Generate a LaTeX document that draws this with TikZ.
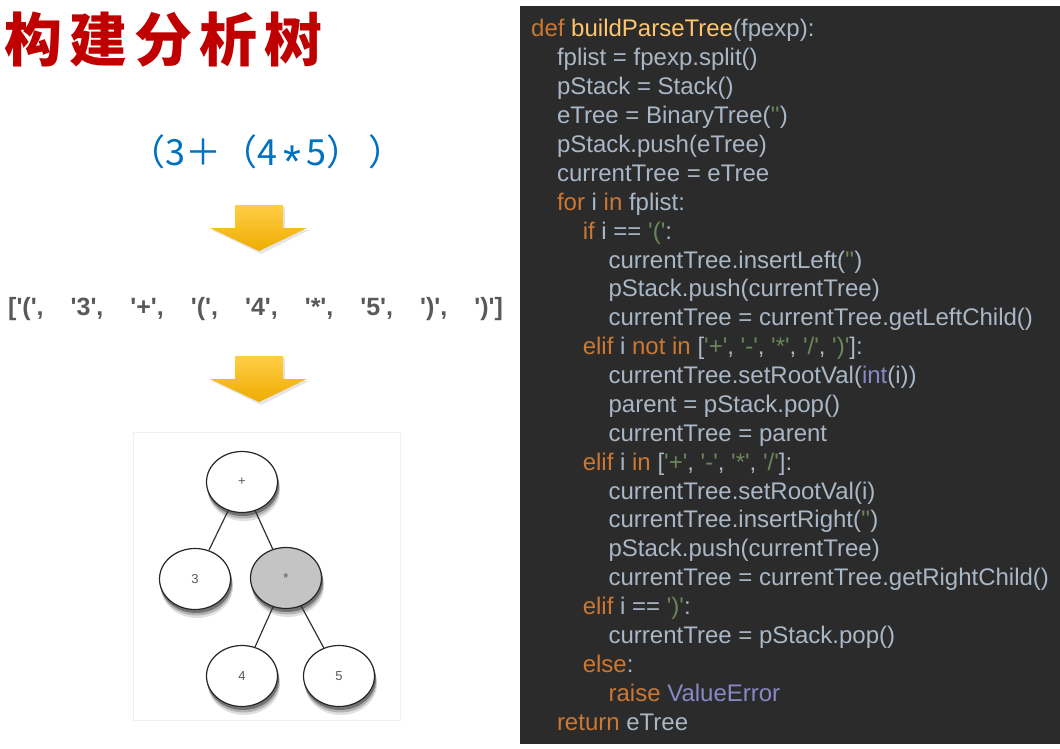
\documentclass[tikz,border=0pt]{standalone}
\usepackage{fontspec}
\usepackage{tikz}
\usetikzlibrary{shapes.geometric}
\newfontfamily\codefont{Liberation Sans}
\newfontfamily\cjkfont{Noto Sans CJK SC}
\definecolor{codebg}{RGB}{43,43,43}
\definecolor{codetxt}{RGB}{169,183,198}
\definecolor{kwocre}{RGB}{204,120,50}
\definecolor{fnyellow}{RGB}{255,198,109}
\definecolor{strgreen}{RGB}{106,135,89}
\definecolor{bipurple}{RGB}{136,136,198}
\definecolor{titlered}{RGB}{192,0,0}
\definecolor{exprblue}{RGB}{0,112,192}
\definecolor{listgray}{RGB}{89,89,89}
\definecolor{arrowtop}{RGB}{255,206,70}
\definecolor{arrowbot}{RGB}{238,172,0}
\newcommand{\pykw}[1]{\textcolor{kwocre}{#1}}
\newcommand{\pyfn}[1]{\textcolor{fnyellow}{#1}}
\newcommand{\pystr}[1]{\textcolor{strgreen}{#1}}
\newcommand{\pybi}[1]{\textcolor{bipurple}{#1}}
\newcommand{\pyline}[3]{\node [pycode] (l#1) at ({531+25.8*#2},{37+28.875*(#1-1)}) {#3};}
\begin{document}
\begin{tikzpicture}[x=1pt,y=-1pt,
  pycode/.style={anchor=base west, inner sep=0pt, text=codetxt, font=\codefont\fontsize{24}{28.8}\selectfont},
  treenode/.style={ellipse, draw=black!85, line width=1.2pt, fill=white, minimum width=71pt, minimum height=61pt, inner sep=0pt, text=black!65, font=\codefont\fontsize{13}{15}\selectfont},
  treeedge/.style={black!80, line width=1.2pt}]
\useasboundingbox (0,0) rectangle (1060,749);
\fill [white] (0,0) rectangle (1060,749);
\node [font=\cjkfont\bfseries\fontsize{58}{60}\selectfont, text=titlered] (title) at (164,40) {构\hspace{7pt}建\hspace{7pt}分\hspace{7pt}析\hspace{7pt}树};
\node [anchor=base, inner sep=0pt, font=\cjkfont\fontsize{36}{38}\selectfont, text=exprblue] (expr) at (267,165) {（3＋（4\,\raisebox{-12pt}{\codefont\fontsize{46}{46}\selectfont *}\,5）\,）};
\node [anchor=base west, inner sep=0pt, text=listgray, font=\codefont\bfseries\fontsize{25}{30}\selectfont] (toklist) at (8,315) {['(',\hspace{27pt}'3',\hspace{27pt}'+',\hspace{27pt}'(',\hspace{27pt}'4',\hspace{27pt}'*',\hspace{27pt}'5',\hspace{27pt}')',\hspace{27pt}')']};
\foreach \ay in {205,356} {
  \fill [black!10] (237,\ay+2) -- (285,\ay+2) -- (285,\ay+25) -- (309,\ay+25) -- (261,\ay+49) -- (212,\ay+25) -- (237,\ay+25) -- cycle;
  \shade [top color=arrowtop, bottom color=arrowbot] (235,\ay) -- (283,\ay) -- (283,\ay+23) -- (307,\ay+23) -- (259,\ay+46) -- (210,\ay+23) -- (235,\ay+23) -- cycle;
}
\draw [black!6] (133,432) rectangle (400,720);
\foreach \cx/\cy in {242/482,195/579,286/578,242/676,339/676} {
  \fill [black!12] (\cx+2,\cy+8) ellipse [x radius=36, y radius=31];
  \fill [black!30] (\cx+1.5,\cy+5.5) ellipse [x radius=36, y radius=31];
  \fill [black!55] (\cx+1,\cy+3) ellipse [x radius=36, y radius=31];
}
\node [treenode] (nplus) at (242,482) {+};
\node [treenode] (nthree) at (195,579) {3};
\node [treenode, fill=black!23] (nstar) at (286,578) {*};
\node [treenode] (nfour) at (242,676) {4};
\node [treenode] (nfive) at (339,676) {5};
\draw [treeedge] (nplus) -- (nthree);
\draw [treeedge] (nplus) -- (nstar);
\draw [treeedge] (nstar) -- (nfour);
\draw [treeedge] (nstar) -- (nfive);
\fill [codebg] (520,6) rectangle (1060,744);
\pyline{1}{0}{\pykw{def} \pyfn{buildParseTree}(fpexp):}
\pyline{2}{1}{fplist = fpexp.split()}
\pyline{3}{1}{pStack = Stack()}
\pyline{4}{1}{eTree = BinaryTree(\pystr{''})}
\pyline{5}{1}{pStack.push(eTree)}
\pyline{6}{1}{currentTree = eTree}
\pyline{7}{1}{\pykw{for} i \pykw{in} fplist:}
\pyline{8}{2}{\pykw{if} i == \pystr{'('}:}
\pyline{9}{3}{currentTree.insertLeft(\pystr{''})}
\pyline{10}{3}{pStack.push(currentTree)}
\pyline{11}{3}{currentTree = currentTree.getLeftChild()}
\pyline{12}{2}{\pykw{elif} i \pykw{not in} [\pystr{'+'}, \pystr{'-'}, \pystr{'*'}, \pystr{'/'}, \pystr{')'}]:}
\pyline{13}{3}{currentTree.setRootVal(\pybi{int}(i))}
\pyline{14}{3}{parent = pStack.pop()}
\pyline{15}{3}{currentTree = parent}
\pyline{16}{2}{\pykw{elif} i \pykw{in} [\pystr{'+'}, \pystr{'-'}, \pystr{'*'}, \pystr{'/'}]:}
\pyline{17}{3}{currentTree.setRootVal(i)}
\pyline{18}{3}{currentTree.insertRight(\pystr{''})}
\pyline{19}{3}{pStack.push(currentTree)}
\pyline{20}{3}{currentTree = currentTree.getRightChild()}
\pyline{21}{2}{\pykw{elif} i == \pystr{')'}:}
\pyline{22}{3}{currentTree = pStack.pop()}
\pyline{23}{2}{\pykw{else}:}
\pyline{24}{3}{\pykw{raise} \pybi{ValueError}}
\pyline{25}{1}{\pykw{return} eTree}
\end{tikzpicture}
\end{document}
